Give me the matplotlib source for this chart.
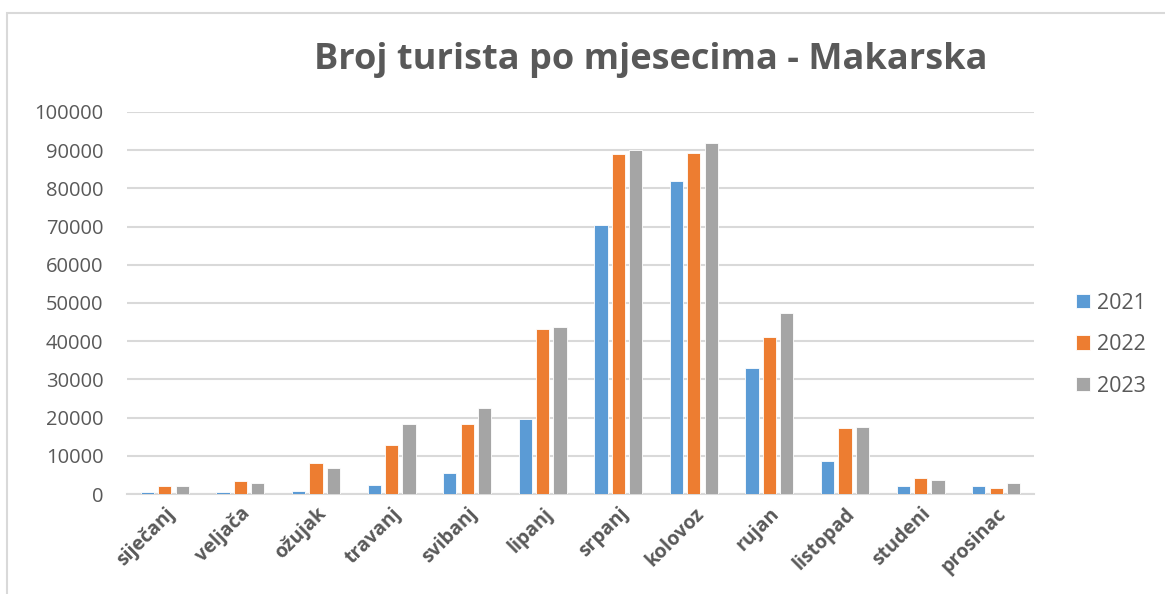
import numpy as np
import matplotlib
matplotlib.use("Agg")
import matplotlib.pyplot as plt
from matplotlib.patches import Rectangle

mjeseci = ['siječanj', 'veljača', 'ožujak', 'travanj', 'svibanj', 'lipanj',
           'srpanj', 'kolovoz', 'rujan', 'listopad', 'studeni', 'prosinac']
god_2021 = [500, 500, 900, 2400, 5600, 19700, 70500, 82000, 33000, 8700, 2000, 2000]
god_2022 = [2000, 3300, 8000, 12800, 18400, 43300, 89000, 89300, 41200, 17200, 4300, 1700]
god_2023 = [2000, 3000, 6800, 18200, 22500, 43600, 90000, 91800, 47500, 17500, 3600, 3000]
godine = ['2021', '2022', '2023']
boje = ['#5b9bd5', '#ed7d31', '#a5a5a5']
yticks = list(range(0, 100001, 10000))

plt.rcParams['font.family'] = ['Open Sans', 'DejaVu Sans']
siva = '#595959'

fig = plt.figure(figsize=(11.65, 5.94), dpi=100)
ax = fig.add_axes([127/1165, 1 - 494/594, (1034-127)/1165, (494-112)/594])

# okvir grafikona
fig.patches.append(Rectangle((7/1165, -0.01), 1.1, 1 - 13/594 + 0.01,
                             transform=fig.transFigure, fill=False,
                             edgecolor='#d9d9d9', linewidth=1.5))

x = np.arange(len(mjeseci))
sirina = 0.175
pomak = 0.23
for i, (vrijednosti, boja, god) in enumerate(zip([god_2021, god_2022, god_2023], boje, godine)):
    ax.bar(x + (i - 1) * pomak, vrijednosti, sirina, color=boja, label=god,
           edgecolor='white', linewidth=0.6, zorder=3)

ax.set_xlim(-0.5, len(mjeseci) - 0.5)
ax.set_ylim(0, 100000)
ax.set_yticks(yticks)
ax.set_yticklabels([str(t) for t in yticks])
ax.set_xticks(x)
ax.set_xticklabels(mjeseci, rotation=45, ha='right', rotation_mode='anchor',
                   fontweight='bold')
ax.tick_params(axis='y', length=0, labelsize=14.5, labelcolor=siva, pad=17)
ax.tick_params(axis='x', length=0, labelsize=14, labelcolor=siva, pad=7)

ax.grid(axis='y', color='#d9d9d9', linewidth=1.5, zorder=0)
for s in ['top', 'right', 'left']:
    ax.spines[s].set_visible(False)
ax.spines['bottom'].set_color('#d9d9d9')
ax.spines['bottom'].set_linewidth(1.5)

fig.text(651/1165, 1 - 60/594, 'Broj turista po mjesecima - Makarska',
         ha='center', va='center', fontsize=26, fontweight='bold', color=siva)

leg = fig.legend(loc='upper left', bbox_to_anchor=(1065/1165, 1 - 282/594),
                 frameon=False, fontsize=15.5, handlelength=0.65, handleheight=0.65,
                 labelspacing=0.95, handletextpad=0.35, borderpad=0)
for t in leg.get_texts():
    t.set_color(siva)

fig.savefig('out.png', dpi=100)
